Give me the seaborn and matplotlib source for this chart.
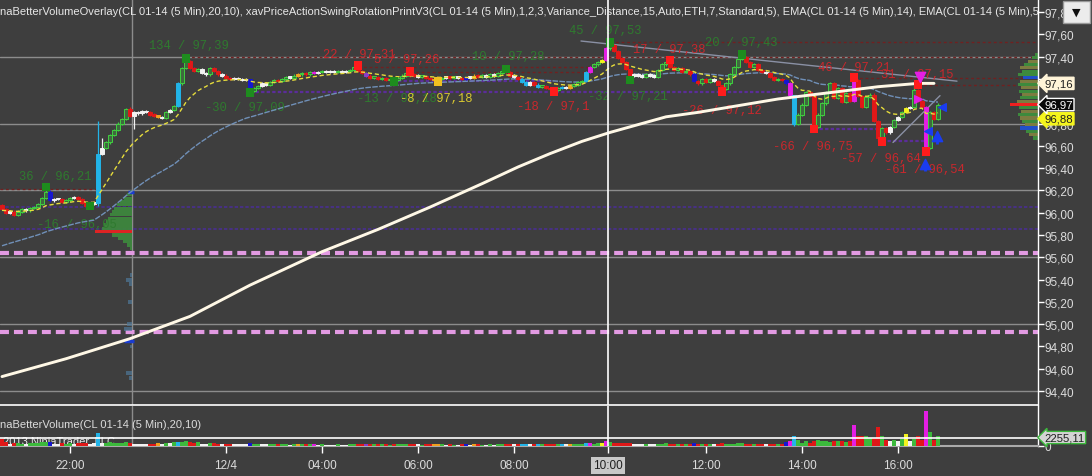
import numpy as np
import pandas as pd
import seaborn as sns
import matplotlib.pyplot as plt
from matplotlib.patches import Rectangle

# ---------------- data ----------------
first_open = 96.07
closes = [
    96.03, 96.00, 96.01, 95.98, 96.01, 96.03, 96.02, 96.04, 96.05, 96.08,
    96.13, 96.19, 96.11, 96.12, 96.12, 96.10, 96.11, 96.13, 96.14, 96.12,
    96.09, 96.06, 96.08, 96.09, 96.53, 96.58, 96.63, 96.70, 96.74, 96.80,
    96.84, 96.93, 96.87, 96.90, 96.89, 96.91, 96.90, 96.88, 96.87, 96.86,
    96.85, 96.90, 96.92, 96.96, 97.16, 97.30, 97.36, 97.30, 97.27, 97.29,
    97.25, 97.24, 97.30, 97.27, 97.24, 97.23, 97.21, 97.20, 97.21, 97.20,
    97.19, 97.20, 97.09, 97.12, 97.14, 97.16, 97.15, 97.17, 97.19, 97.18,
    97.20, 97.22, 97.21, 97.23, 97.24, 97.25, 97.24, 97.26, 97.25, 97.26,
    97.27, 97.26, 97.27, 97.26, 97.27, 97.26, 97.27, 97.28, 97.31, 97.27,
    97.25, 97.23, 97.21, 97.22, 97.20, 97.21, 97.19, 97.20, 97.19, 97.21,
    97.23, 97.25, 97.24, 97.23, 97.22, 97.22, 97.21, 97.20, 97.19, 97.20,
    97.21, 97.22, 97.21, 97.22, 97.21, 97.20, 97.22, 97.21, 97.23, 97.22,
    97.23, 97.22, 97.24, 97.23, 97.25, 97.27, 97.26, 97.23, 97.22, 97.20,
    97.17, 97.15, 97.17, 97.15, 97.13, 97.14, 97.12, 97.11, 97.10, 97.12,
    97.13, 97.12, 97.14, 97.15, 97.17, 97.18, 97.26, 97.31, 97.33, 97.35,
    97.37, 97.48, 97.50, 97.45, 97.39, 97.35, 97.29, 97.23, 97.24, 97.23,
    97.22, 97.24, 97.23, 97.22, 97.28, 97.33, 97.35, 97.31, 97.28, 97.30,
    97.26, 97.27, 97.24, 97.18, 97.16, 97.20, 97.17, 97.20, 97.18, 97.15,
    97.11, 97.16, 97.24, 97.31, 97.38, 97.40, 97.35, 97.31, 97.33, 97.28,
    97.26, 97.25, 97.22, 97.19, 97.20, 97.19, 97.16, 97.06, 96.80, 96.88,
    96.97, 97.08, 97.05, 96.77, 96.88, 96.98, 97.08, 97.16, 97.03, 97.12,
    96.99, 97.07, 97.00, 97.19, 97.05, 96.95, 97.04, 97.06, 96.82, 96.67,
    96.76, 96.72, 96.77, 96.83, 96.86, 96.90, 96.94, 96.95, 97.10, 97.00,
    96.95, 96.58, 96.90, 96.84, 96.97,
]
volumes = [
    1970, 900, 560, 700, 620, 480, 560, 700, 650, 840,
    900, 1100, 980, 560, 420, 700, 560, 620, 480, 700,
    760, 840, 560, 620, 3660, 840, 760, 900, 700, 840,
    760, 900, 840, 420, 480, 420, 360, 560, 480, 620,
    420, 700, 760, 900, 1100, 980, 1240, 900, 840, 980,
    560, 480, 760, 620, 560, 420, 480, 360, 420, 360,
    300, 360, 840, 560, 480, 420, 300, 360, 420, 360,
    300, 360, 280, 360, 420, 360, 300, 360, 480, 280,
    300, 280, 250, 280, 300, 250, 280, 360, 560, 480,
    360, 420, 360, 300, 360, 300, 360, 280, 420, 360,
    360, 420, 560, 420, 300, 280, 300, 360, 480, 420,
    300, 280, 300, 250, 280, 300, 560, 280, 420, 300,
    280, 250, 300, 280, 360, 420, 480, 420, 300, 360,
    560, 480, 300, 420, 480, 360, 420, 480, 560, 420,
    480, 300, 420, 360, 480, 420, 620, 760, 560, 620,
    700, 1270, 980, 760, 700, 620, 700, 620, 480, 420,
    360, 420, 360, 300, 480, 560, 620, 560, 420, 480,
    420, 360, 480, 620, 480, 420, 360, 420, 300, 560,
    620, 560, 480, 560, 620, 700, 560, 480, 420, 560,
    480, 360, 480, 560, 420, 560, 850, 1210, 2620, 1490,
    760, 1210, 760, 1210, 1490, 1210, 1210, 930, 1210, 1210,
    1210, 930, 1210, 5920, 2820, 2620, 2820, 2170, 2170, 5160,
    2620, 1690, 1410, 1690, 1410, 1890, 3380, 1210, 1890, 2620,
    1690, 9670, 3750, 1490, 2820,
]

# bars painted in a special colour by the BetterVolume overlay
white_bars = [2, 6, 13, 14, 18, 22, 23, 25, 33, 34, 35, 36, 40, 42, 50, 51, 55, 58,
              59, 60, 61, 65, 66, 72, 79, 81, 82, 83, 85, 86, 104, 111, 114, 117,
              121, 123, 128, 132, 141, 158, 159, 160, 162, 163, 178, 191, 222, 224, 227]
blue_bars = [12, 62, 116, 173, 196]
cyan_bars = [24, 44, 130, 131, 134, 140, 146, 198]
orange_bars = [39, 74, 108, 109, 118, 142]
magenta_bars = [78, 147, 151, 197, 213, 231]
yellow_bars = [150, 226]
purple_bars = [91]

# long wicks
wick_bars = [11, 21, 24, 25, 32, 33, 46, 62, 88, 102, 108, 125, 138, 152, 157, 167,
             180, 185, 198, 203, 213, 219, 228, 231]
wick_high = [96.23, 96.09, 96.82, 96.67, 96.95, 96.91, 97.39, 97.20, 97.32, 97.27, 97.21,
             97.29, 97.11, 97.54, 97.29, 97.37, 97.15, 97.43, 97.06, 97.05, 97.21, 96.83,
             97.15, 96.96]
wick_low = [96.12, 96.04, 96.06, 96.52, 96.86, 96.75, 97.29, 97.06, 97.27, 97.22, 97.18,
            97.24, 97.09, 97.46, 97.19, 97.30, 97.09, 97.37, 96.78, 96.75, 96.99, 96.64,
            96.94, 96.54]

ema14_seed = 96.02
ema50_seed = 95.69

# long (cream) moving average
slow_bar = [0, 16, 32, 47, 62, 80, 94, 107, 120, 129, 137, 145, 152, 166, 174, 194,
            219, 229, 233]
slow_val = [94.53, 94.69, 94.87, 95.07, 95.35, 95.65, 95.85, 96.05, 96.26, 96.41,
            96.53, 96.64, 96.72, 96.86, 96.90, 97.02, 97.13, 97.16, 97.16]

# swing rotation labels
lbl_text = ["36 / 96,21", "-16 / 96,05", "134 / 97,39", "-30 / 97,09", "22 / 97,31",
            "5 / 97,26", "-13 / 97,18", "-8 / 97,18", "10 / 97,28", "-18 / 97,1",
            "45 / 97,53", "-32 / 97,21", "17 / 97,38", "20 / 97,43", "-26 / 97,12",
            "46 / 97,21", "31 / 97,15", "-66 / 96,75", "-57 / 96,64", "-61 / 96,54"]
lbl_bar = [13.25, 18.7, 46.75, 60.75, 89.25, 101.25, 98.75, 108.5, 126.5, 137.75,
           150.75, 156.5, 166.75, 184.75, 180, 213, 228.75, 202.75, 219.75, 230.75]
lbl_price = [96.33, 95.90, 97.50, 96.95, 97.42, 97.38, 97.03, 97.03, 97.41, 96.96,
             97.64, 97.05, 97.47, 97.53, 96.92, 97.31, 97.24, 96.60, 96.49, 96.39]
lbl_kind = ["g", "g", "g", "g", "r", "r", "g", "y", "g", "r",
            "g", "g", "r", "g", "r", "r", "r", "r", "r", "r"]

# swing point markers
mk_bar = [11, 22, 46, 62, 98, 126, 152, 157, 185, 89, 102, 138, 167, 180, 203, 213,
          220, 229, 231, 109]
mk_price = [96.23, 96.06, 97.38, 97.08, 97.18, 97.29, 97.53, 97.19, 97.42, 97.32, 97.27,
            97.09, 97.37, 97.09, 96.75, 97.21, 96.64, 97.15, 96.55, 97.18]
mk_kind = ["g"] * 9 + ["r"] * 10 + ["y"]

# swing levels
dr_level = [96.21, 97.40, 97.31, 97.26, 97.53, 97.21, 97.15]
dr_start = [-0.5, 46, 89, 102, 152, 213, 229]
dr_end = [24, 259, 147, 147, 259, 259, 259]
pu_level = [97.08, 97.18, 96.75, 96.64]
pu_start = [62, 99, 203, 220]
pu_end = [196, 138, 220, 231]
full_purple = [96.05, 95.85]
pink_levels = [95.635, 94.93]
grid_levels = [97.40, 96.80, 96.20, 95.60, 95.00, 94.40]

# trend lines
tl_x0 = [144.75, 222.75]
tl_y0 = [97.54, 96.63]
tl_x1 = [238.75, 234.5]
tl_y1 = [97.18, 97.05]

# volume profiles
prof_r_price = [97.42, 97.39, 97.36, 97.33, 97.30, 97.27, 97.24, 97.21, 97.18, 97.15,
                97.12, 97.09, 97.06, 97.03, 97.00, 96.97, 96.94, 96.91, 96.88, 96.85,
                96.82, 96.79, 96.76, 96.73, 96.70, 96.67]
prof_r_vol = [3, 6, 10, 14, 18, 16, 20, 15, 18, 20, 17, 19, 16, 18, 21, 28, 19, 17, 20,
              18, 16, 13, 18, 12, 9, 5]
prof_r_kind = ["g", "g", "o", "g", "o", "g", "g", "b", "o", "g", "o", "g", "o", "g", "o",
               "r", "g", "o", "g", "o", "g", "o", "b", "g", "o", "g"]
prof_m_price = [96.19, 96.16, 96.13, 96.10, 96.07, 96.04, 96.01, 95.98, 95.95, 95.92,
                95.89, 95.86, 95.83, 95.80, 95.77, 95.74, 95.71, 95.68]
prof_m_vol = [2, 5, 8, 12, 15, 18, 20, 22, 24, 26, 28, 30, 37, 20, 14, 9, 5, 2]
prof_m_kind = ["g"] * 12 + ["r"] + ["g"] * 5
ghost_price = [95.44, 95.40, 95.36, 95.20, 95.00, 94.96, 94.80, 94.56, 94.52]
ghost_vol = [2, 6, 3, 4, 5, 8, 2, 6, 3]

tick_bars = [17, 56, 80, 104, 128, 151.5, 176, 200, 224]
tick_labels = ["22:00", "12/4", "04:00", "06:00", "08:00", "10:00", "12:00", "14:00", "16:00"]
price_ticks = [97.8, 97.6, 97.4, 97.2, 97.0, 96.8, 96.6, 96.4, 96.2, 96.0, 95.8,
               95.6, 95.4, 95.2, 95.0, 94.8, 94.6, 94.4]
hidden_ticks = [97.2, 97.0]   # covered by the price tags in the screenshot
tag_vals = [97.16, 96.88, 96.97]
crosshair_vol = 2255.11

title = ("naBetterVolumeOverlay(CL 01-14 (5 Min),20,10), xavPriceActionSwingRotationPrintV3"
         "(CL 01-14 (5 Min),1,2,3,Variance_Distance,15,Auto,ETH,7,Standard,5), "
         "EMA(CL 01-14 (5 Min),14), EMA(CL 01-14 (5 Min),50)")

# ---------------- styling ----------------
BG = "#3e3e3e"
FACE = {"g": "#3e6a3e", "r": "#e01818", "w": "#f2f2f2", "c": "#22b4e8", "b": "#1616d0",
        "m": "#e41ee4", "y": "#f2f21e", "o": "#f0a01e", "p": "#8a3cc8"}
EDGE = dict(FACE, g="#40d040")
VOLC = dict(FACE, g="#3cba3c")
TXT = {"g": "#2f7a2f", "r": "#c8282d", "y": "#d8c830"}
MKC = {"g": "#1e8c1e", "r": "#ff1c1c", "y": "#f0c020"}
PROF = {"g": "#3d8a3d", "o": "#7c7c40", "b": "#2050c8", "r": "#f02020"}

sns.set_theme(style="dark", rc={"axes.facecolor": BG, "figure.facecolor": BG,
                                "savefig.facecolor": BG})
plt.rcParams["font.family"] = ["Liberation Sans", "DejaVu Sans"]

# ---------------- build frame ----------------
n = len(closes)
opens = [first_open] + closes[:-1]
df = pd.DataFrame({"bar": np.arange(n), "open": opens, "close": closes, "volume": volumes})
kind = ["g" if c >= o else "r" for o, c in zip(opens, closes)]
for k, idx in [("w", white_bars), ("b", blue_bars), ("c", cyan_bars), ("o", orange_bars),
               ("m", magenta_bars), ("y", yellow_bars), ("p", purple_bars)]:
    for i in idx:
        kind[i] = k
df["kind"] = kind
df["top"] = df[["open", "close"]].max(axis=1)
df["bot"] = df[["open", "close"]].min(axis=1)
WICK = 0.01
df["high"] = df["top"] + WICK
df["low"] = df["bot"] - WICK
df.loc[wick_bars, "high"] = wick_high
df.loc[wick_bars, "low"] = wick_low
df["ema14"] = pd.Series([ema14_seed] + closes).ewm(span=14, adjust=False).mean().iloc[1:].values
df["ema50"] = pd.Series([ema50_seed] + closes).ewm(span=50, adjust=False).mean().iloc[1:].values

XMAX = 259
fig = plt.figure(figsize=(10.92, 4.77), dpi=100)
ax = fig.add_axes([0, 1 - 406 / 477, 1038 / 1092, 406 / 477])
axv = fig.add_axes([0, 1 - 446.5 / 477, 1038 / 1092, 39.5 / 477], sharex=ax)
ax.set_xlim(-0.5, XMAX)
ax.set_ylim(94.275, 97.917)
axv.set_ylim(0, 11140)

# background levels
for lv in grid_levels:
    ax.axhline(lv, color="#8c8c8c", lw=1, zorder=0.5)
for lv in full_purple:
    ax.axhline(lv, color="#4a2f90", lw=1.2, ls=(0, (2, 1.2)), zorder=0.8)
for lv in pink_levels:
    ax.axhline(lv, color="#e29ae2", lw=3, ls=(0, (2.15, 1.2)), zorder=0.9)
ax.hlines(dr_level, dr_start, dr_end, colors="#702020", lw=1, linestyles=(0, (2, 2)), zorder=1.2)
ax.hlines(pu_level, pu_start, pu_end, colors="#5b2d9a", lw=1.6, linestyles=(0, (1.5, 1)), zorder=1.2)
for x0, y0, x1, y1 in zip(tl_x0, tl_y0, tl_x1, tl_y1):
    ax.plot([x0, x1], [y0, y1], color="#8a90a4", lw=1, zorder=2)

# volume profiles
rw = np.array(prof_r_vol) * 0.25
ax.barh(prof_r_price, rw, left=XMAX - rw, height=0.028,
        color=[PROF[k] for k in prof_r_kind], lw=0, zorder=1.5)
mw = np.array(prof_m_vol) * 0.25
ax.barh(prof_m_price, mw, left=32.5 - mw, height=0.028,
        color=[PROF[k] for k in prof_m_kind], lw=0, zorder=1.5, alpha=0.9)
gw = np.array(ghost_vol) * 0.25
ax.barh(ghost_price, gw, left=32.5 - gw, height=0.035, color="#4f7898", lw=0, zorder=1.5, alpha=0.7)
ax.hlines([94.85, 96.19], [30.5, 31.5], [33, 33], colors="#1a3cd0", lw=2.5, zorder=1.6)

# vertical lines
for a in (ax, axv):
    a.axvline(32.5, color="#8c8c8c", lw=1, zorder=0.6)
    a.axvline(tick_bars[5], color="white", lw=1.2, zorder=6)
axv.axhline(crosshair_vol, color="white", lw=1.2, zorder=6)

# swing labels
for t, b, p, k in zip(lbl_text, lbl_bar, lbl_price, lbl_kind):
    ax.text(b, p, t, color=TXT[k], fontsize=8.7, family="Liberation Mono",
            ha="center", va="center", zorder=2)

# candles
ax.vlines(df["bar"], df["low"], df["high"], colors=[EDGE[k] for k in df["kind"]], lw=0.9, zorder=3)
ax.bar(df["bar"], (df["top"] - df["bot"]).clip(lower=0.012), bottom=df["bot"], width=0.76,
       color=[FACE[k] for k in df["kind"]], edgecolor=[EDGE[k] for k in df["kind"]],
       linewidth=0.7, zorder=3.1)

# moving averages
sns.lineplot(data=df, x="bar", y="ema50", ax=ax, color="#7090b8", lw=1,
             linestyle=(0, (4, 1)), zorder=2.5, legend=False)
sns.lineplot(data=df, x="bar", y="ema14", ax=ax, color="#e6dc3c", lw=1,
             linestyle=(0, (3, 2)), zorder=4, legend=False)
sns.lineplot(x=slow_bar, y=slow_val, ax=ax, color="#fff8e6", lw=2.1, zorder=4.5,
             estimator=None, sort=False, legend=False)

# swing markers and arrows
sns.scatterplot(x=mk_bar, y=mk_price, hue=mk_kind, palette=MKC, marker="s", s=40,
                linewidth=0, ax=ax, legend=False, zorder=5)
ax.scatter([229.5], [97.22], marker="v", s=55, color="#e41ee4", zorder=5.5)
ax.scatter([229], [97.02], marker=">", s=30, color="#e41ee4", zorder=5.5)
ax.scatter([230.75, 233.75], [96.44, 96.69], marker="^", s=55, color="#1a3cf0", zorder=5.5)
ax.vlines([230.75, 233.75], [96.37, 96.62], [96.44, 96.69], colors="#1a3cf0", lw=2, zorder=5.5)
ax.scatter([231.5, 235], [96.73, 96.95], marker="<", s=30, color="#1a3cf0", zorder=5.5)

# volume bars
axv.bar(df["bar"], df["volume"], width=0.76, color=[VOLC[k] for k in df["kind"]], lw=0, zorder=3)

# ---------------- axes cosmetics ----------------
ax.set(xlabel="", ylabel="")
axv.set(xlabel="", ylabel="")
for a in (ax, axv):
    a.grid(False)
    a.spines["left"].set_visible(False)
    a.spines["top"].set_visible(False)
    a.spines["right"].set_color("white")
    a.spines["right"].set_linewidth(1)
ax.spines["bottom"].set_color("white")
ax.spines["bottom"].set_linewidth(1.2)
axv.spines["bottom"].set_color("#aaaaaa")
axv.spines["bottom"].set_linewidth(1.5)

ax.yaxis.tick_right()
ax.set_yticks(price_ticks)
ax.set_yticklabels(["" if v in hidden_ticks else f"{v:.2f}".replace(".", ",")
                    for v in price_ticks])
ax.tick_params(axis="y", right=True, length=4, width=1, color="white",
               labelcolor="#dcdcdc", labelsize=8.5, pad=1)
ax.tick_params(axis="x", bottom=False, labelbottom=False)

axv.yaxis.tick_right()
axv.set_yticks([0])
axv.set_yticklabels(["0"])
axv.tick_params(axis="y", right=True, length=4, width=1, color="white",
                labelcolor="#dcdcdc", labelsize=8.5, pad=1)
axv.set_xticks(tick_bars)
axv.set_xticklabels(tick_labels)
axv.tick_params(axis="x", bottom=True, length=5, width=1, color="white",
                labelcolor="#dcdcdc", labelsize=8.5, pad=5)
lab = axv.get_xticklabels()[5]
lab.set_color("#202020")
lab.set_bbox(dict(fc="#c8c8c8", ec="none", pad=1.5))

# texts
ax.text(0, 1 - 12 / 406, title, transform=ax.transAxes, ha="left", va="center",
        fontsize=8, color="#e8e8e8", clip_on=True, zorder=7)
axv.text(0, 0.544, "naBetterVolume(CL 01-14 (5 Min),20,10)", transform=axv.transAxes,
         ha="left", va="center", fontsize=8, color="#dcdcdc")
axv.text(0.003, 0.12, "2013 NinjaTrader, LLC", transform=axv.transAxes,
         ha="left", va="center", fontsize=8, color="#e8e8e8", zorder=2)

# price / volume tags on the right axis (black last-price tag drawn on top);
# the yellow tag is nudged down a few pixels as NinjaTrader does to keep it readable
tr = ax.get_yaxis_transform()
tag_style = [("#fff4d8", "#fff4d8", "#202020"), ("#f5f51e", "#f5f51e", "#202020"),
             ("#0a0a0a", "white", "white")]
tag_nudge = [0, -3, 0]
for v, (fc, ec, tc), dy in zip(tag_vals, tag_style, tag_nudge):
    ax.annotate(f"{v:.2f}".replace(".", ","), xy=(1.006, v), xycoords=tr,
                xytext=(0, dy), textcoords="offset points", ha="left", va="center",
                fontsize=8.2, color=tc, annotation_clip=False, zorder=8,
                bbox=dict(boxstyle="larrow,pad=0.1", fc=fc, ec=ec, lw=1))
axv.text(1.006, crosshair_vol, f"{crosshair_vol:.2f}".replace(".", ","),
         transform=axv.get_yaxis_transform(), ha="left", va="center", fontsize=8.2,
         color="#202020", clip_on=False, zorder=8,
         bbox=dict(boxstyle="larrow,pad=0.1", fc="#d4d4d4", ec="#3cba3c", lw=1))

# dropdown button
fig.add_artist(Rectangle((1063 / 1092, 1 - 24 / 477), 27 / 1092, 22 / 477,
                         transform=fig.transFigure, fc="#ececec", ec="#9a9a9a", lw=1))
fig.text(1076.5 / 1092, 1 - 13 / 477, "▼", ha="center", va="center", fontsize=8,
         color="#101010", family="DejaVu Sans")

fig.savefig("out.png", dpi=100)
plt.close(fig)
